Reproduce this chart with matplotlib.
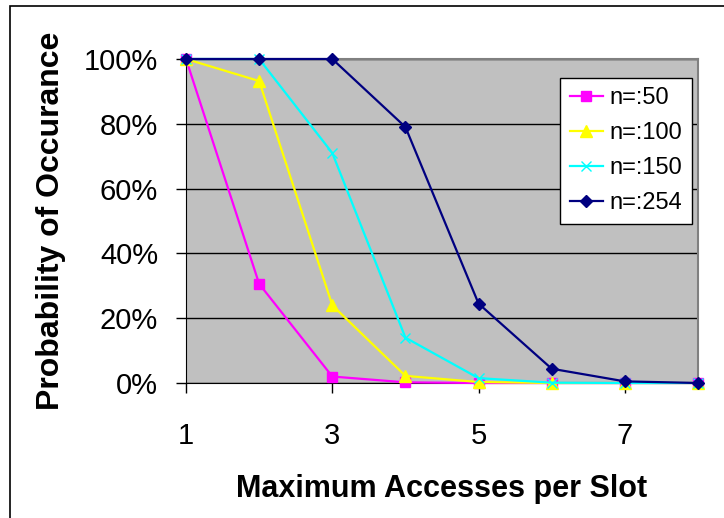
import matplotlib
matplotlib.use('Agg')
import matplotlib.pyplot as plt
from matplotlib.patches import Rectangle

plt.rcParams['font.family'] = ['Liberation Sans', 'DejaVu Sans']

# --- Data ---
accesses = [1, 2, 3, 4, 5, 6, 7, 8]
n50 = [1.00, 0.306, 0.020, 0.002, 0.000, 0.000, 0.000, 0.000]
n100 = [1.00, 0.932, 0.240, 0.022, 0.003, 0.000, 0.000, 0.000]
n150 = [1.00, 1.00, 0.710, 0.140, 0.015, 0.001, 0.000, 0.000]
n254 = [1.00, 1.00, 1.00, 0.790, 0.245, 0.044, 0.005, 0.000]
labels = ['n=:50', 'n=:100', 'n=:150', 'n=:254']
x_ticks = [1, 3, 5, 7]
y_ticks = [0, 0.2, 0.4, 0.6, 0.8, 1.0]

W, H = 724, 518
fig = plt.figure(figsize=(W / 100, H / 100), dpi=100)
fig.patch.set_facecolor('white')

# outer chart frame (clipped by the image on the right and bottom)
fig.patches.append(Rectangle((10 / W, -0.1), 1.2, 1 - 6 / H + 0.1,
                             transform=fig.transFigure, fill=False,
                             edgecolor='black', linewidth=1.2))

ax = fig.add_axes([186 / W, 1 - 383 / H, (698 - 186) / W, (383 - 59) / H])
ax.set_facecolor('#C0C0C0')

styles = [
    dict(color='#FF00FF', marker='s', markersize=7.5),
    dict(color='#FFFF00', marker='^', markersize=8.5),
    dict(color='#00FFFF', marker='x', markersize=7, markeredgewidth=1),
    dict(color='#000080', marker='D', markersize=6.5),
]
for series, lab, st in zip([n50, n100, n150, n254], labels, styles):
    ax.plot(accesses, series, label=lab, linewidth=1.6, clip_on=False, zorder=3, **st)

ax.set_xlim(1, 8)
ax.set_ylim(0, 1)
ax.set_xticks(x_ticks)
ax.set_yticks(y_ticks)
ax.set_yticklabels([f'{int(round(v * 100))}%' for v in y_ticks])
ax.tick_params(axis='both', labelsize=21, direction='out', length=7, width=1, color='black')
ax.tick_params(axis='y', pad=13)
ax.tick_params(axis='x', pad=21)
ax.grid(axis='y', color='black', linewidth=1)
ax.set_axisbelow(True)

for side in ['top', 'right']:
    ax.spines[side].set_color('#808080')
    ax.spines[side].set_linewidth(1.5)
ax.spines['left'].set_color('black')
ax.spines['bottom'].set_color('black')

ax.set_xlabel('Maximum Accesses per Slot', fontsize=22, fontweight='bold', labelpad=17)
ax.set_ylabel('Probability of Occurance', fontsize=23, fontweight='bold', labelpad=13)

leg = ax.legend(loc='upper right', bbox_to_anchor=(692 / W, 1 - 78 / H),
                bbox_transform=fig.transFigure, borderaxespad=0, fontsize=17,
                fancybox=False, framealpha=1, edgecolor='black',
                handlelength=1.4, handletextpad=0.3, labelspacing=0.55,
                borderpad=0.4)
leg.get_frame().set_linewidth(1)

fig.savefig('out.png', dpi=100)
